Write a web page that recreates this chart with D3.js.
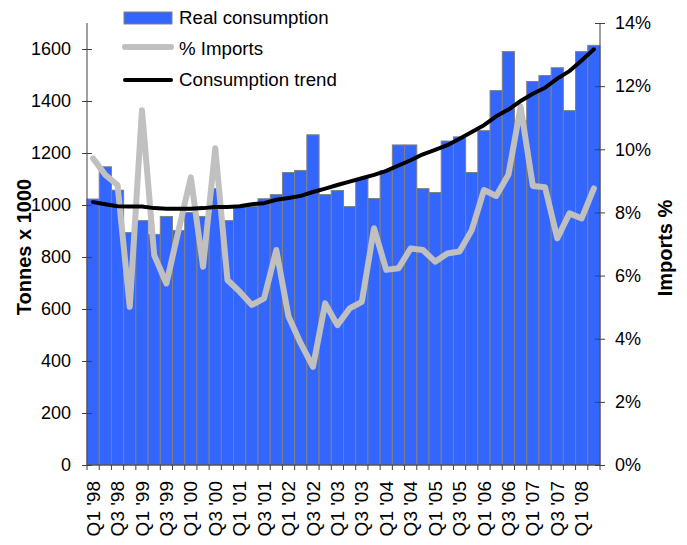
<!DOCTYPE html>
<html>
<head>
<meta charset="utf-8">
<script src="https://cdn.jsdelivr.net/npm/d3@7"></script>
<style>
  html, body { margin: 0; padding: 0; background: #fff; }
  svg { display: block; font-family: "Liberation Sans", Arial, sans-serif; }
</style>
</head>
<body>
<svg id="chart" width="687" height="545"></svg>
<script>
// ---- data ----
const quarters = [
  "Q1 '98","Q2 '98","Q3 '98","Q4 '98",
  "Q1 '99","Q2 '99","Q3 '99","Q4 '99",
  "Q1 '00","Q2 '00","Q3 '00","Q4 '00",
  "Q1 '01","Q2 '01","Q3 '01","Q4 '01",
  "Q1 '02","Q2 '02","Q3 '02","Q4 '02",
  "Q1 '03","Q2 '03","Q3 '03","Q4 '03",
  "Q1 '04","Q2 '04","Q3 '04","Q4 '04",
  "Q1 '05","Q2 '05","Q3 '05","Q4 '05",
  "Q1 '06","Q2 '06","Q3 '06","Q4 '06",
  "Q1 '07","Q2 '07","Q3 '07","Q4 '07",
  "Q1 '08","Q2 '08"
];
const realConsumption = [
  1023,1147,1057,894, 940,887,956,902, 971,956,1063,940,
  993,995,1024,1040, 1125,1133,1270,1040, 1056,994,1102,1025,
  1132,1231,1231,1063, 1048,1246,1262,1125, 1286,1440,1590,1324,
  1475,1498,1528,1363, 1590,1614
];
const importsPct = [
  9.71,9.19,8.87,5.01, 11.24,6.65,5.75,7.44, 9.11,6.28,10.03,5.86,
  5.49,5.07,5.28,6.81, 4.70,3.85,3.11,5.12, 4.43,4.96,5.17,7.50,
  6.18,6.23,6.86,6.81, 6.44,6.70,6.76,7.44, 8.71,8.52,9.19,11.35,
  8.84,8.80,7.18,7.97, 7.81,8.76
];
const consumptionTrend = [
  1011,1003,995,994, 994,988,986,986, 986,988,992,992,
  995,1003,1007,1020, 1027,1035,1050,1063, 1077,1090,1103,1116,
  1131,1152,1172,1195, 1212,1230,1255,1281, 1307,1341,1367,1400,
  1428,1451,1486,1515, 1556,1599
];
const leftTicks = [0,200,400,600,800,1000,1200,1400,1600];
const rightTicks = [0,2,4,6,8,10,12,14];
const legendLabels = ["Real consumption","% Imports","Consumption trend"];
const leftTitle = "Tonnes x 1000";
const rightTitle = "Imports %";

// ---- layout ----
const svg = d3.select("#chart");
const L = 87, R = 600, T = 23, B = 465;
const axisColor = "#404040";

const x = d3.scaleBand().domain(quarters).range([L, R]).padding(0);
const y = d3.scaleLinear().domain([0, 1700]).range([B, T]);
const y2 = d3.scaleLinear().domain([0, 14]).range([B, T]);

// bars
svg.append("g").selectAll("rect").data(realConsumption).join("rect")
  .attr("x", (d,i) => x(quarters[i]))
  .attr("y", d => y(d))
  .attr("width", x.bandwidth())
  .attr("height", d => B - y(d))
  .attr("fill", "#3366FF")
  .attr("stroke", "#808080")
  .attr("stroke-width", 1);

// imports line
const lineImp = d3.line()
  .x((d,i) => x(quarters[i]) + x.bandwidth()/2)
  .y(d => y2(d));
svg.append("path").datum(importsPct)
  .attr("d", lineImp)
  .attr("fill", "none")
  .attr("stroke", "#C0C0C0")
  .attr("stroke-width", 6)
  .attr("stroke-linejoin", "round")
  .attr("stroke-linecap", "round");

// trend line
const lineTrend = d3.line()
  .x((d,i) => x(quarters[i]) + x.bandwidth()/2)
  .y(d => y(d));
svg.append("path").datum(consumptionTrend)
  .attr("d", lineTrend)
  .attr("fill", "none")
  .attr("stroke", "#000")
  .attr("stroke-width", 4)
  .attr("stroke-linejoin", "round")
  .attr("stroke-linecap", "round");

// left axis
const gL = svg.append("g").attr("transform", `translate(${L},0)`)
  .call(d3.axisLeft(y).tickValues(leftTicks).tickFormat(d3.format("d"))
    .tickSizeInner(5).tickSizeOuter(0).tickPadding(11));
gL.select(".domain").attr("stroke", axisColor).attr("d", `M0,${T}V${B}`);
gL.selectAll(".tick line").attr("x1", 5).attr("stroke", axisColor);
gL.selectAll(".tick text").attr("font-size", 18).attr("fill", "#000")
  .attr("font-family", "Liberation Sans, Arial, sans-serif");

// right axis
const gR = svg.append("g").attr("transform", `translate(${R},0)`)
  .call(d3.axisRight(y2).tickValues(rightTicks).tickFormat(d => d + "%")
    .tickSizeInner(5).tickSizeOuter(0).tickPadding(10));
gR.select(".domain").attr("stroke", axisColor).attr("d", `M0,${T}V${B}`);
gR.selectAll(".tick line").attr("x1", -5).attr("stroke", axisColor);
gR.selectAll(".tick text").attr("font-size", 18).attr("fill", "#000")
  .attr("font-family", "Liberation Sans, Arial, sans-serif");

// bottom axis: labels every other quarter, centred on bars
const gB = svg.append("g").attr("transform", `translate(0,${B})`)
  .call(d3.axisBottom(x).tickValues(quarters.filter((q,i) => i % 2 === 0))
    .tickSize(0).tickPadding(0));
gB.select(".domain").attr("stroke", axisColor).attr("d", `M${L},0H${R}`);
gB.selectAll(".tick text")
  .attr("font-size", 19).attr("fill", "#000")
  .attr("font-family", "Liberation Sans, Arial, sans-serif")
  .attr("text-anchor", "end")
  .attr("transform", "rotate(-90)")
  .attr("x", -16).attr("y", 0).attr("dy", "0.35em");
// boundary tick marks
const bounds = quarters.map(q => x(q)).concat([x.range()[1]]);
gB.append("g").selectAll("line").data(bounds).join("line")
  .attr("x1", d => d).attr("x2", d => d)
  .attr("y1", 0).attr("y2", 5)
  .attr("stroke", axisColor);

// axis titles
svg.append("text")
  .attr("transform", `translate(24,247) rotate(-90)`)
  .attr("text-anchor", "middle").attr("dy", "0.35em")
  .attr("font-size", 20).attr("font-weight", "bold")
  .text(leftTitle);
svg.append("text")
  .attr("transform", `translate(665,248) rotate(-90)`)
  .attr("text-anchor", "middle").attr("dy", "0.35em")
  .attr("font-size", 20).attr("font-weight", "bold")
  .text(rightTitle);

// legend
const lg = svg.append("g");
const rowY = [18, 47, 80];
lg.append("rect").attr("x", 124).attr("y", rowY[0] - 6).attr("width", 48).attr("height", 12)
  .attr("fill", "#3366FF").attr("stroke", "#808080").attr("stroke-width", 1);
lg.append("line").attr("x1", 125).attr("x2", 171).attr("y1", rowY[1]).attr("y2", rowY[1])
  .attr("stroke", "#C0C0C0").attr("stroke-width", 6).attr("stroke-linecap", "round");
lg.append("line").attr("x1", 125).attr("x2", 171).attr("y1", rowY[2]).attr("y2", rowY[2])
  .attr("stroke", "#000").attr("stroke-width", 4).attr("stroke-linecap", "round");
const baselines = [24, 55, 86];
lg.selectAll("text").data(legendLabels).join("text")
  .attr("x", 179).attr("y", (d,i) => baselines[i])
  .attr("font-size", 18.7).attr("fill", "#000")
  .text(d => d);
</script>
</body>
</html>
